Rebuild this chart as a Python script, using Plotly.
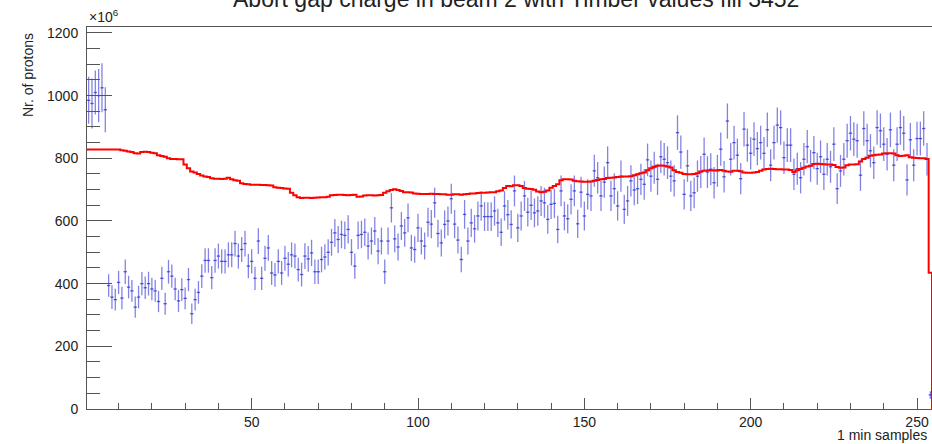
import plotly.graph_objects as go

# ---- data ----
bins = list(range(1, 255))

blue_vals = [
    985, 975, 1010, 1000, 1025, 955,
    394, 357, 349, 404, 354, 438, 389, 377, 325, 357, 400, 387, 400, 383,
    377, 343, 417, 336, 438, 424, 383, 345, 381, 353, 413, 304, 349, 372,
    424, 474, 474, 419, 474, 488, 471, 471, 492, 492, 528, 488, 509, 528,
    456, 471, 417, 536, 417, 481, 514, 434, 428, 471, 434, 481, 462, 492,
    488, 445, 429,
    488, 479, 498, 438, 438, 477, 485, 500, 532, 562, 541, 557, 554, 573,
    500, 456, 554, 557, 564, 520, 536, 568, 504, 536, 438, 536, 642, 543,
    517, 584, 562, 610, 514, 509, 578, 536, 520, 596, 590, 658, 560, 530,
    589, 600, 671, 590, 539, 477, 621, 536, 594, 575, 616, 648, 614, 614,
    614, 632, 594, 564, 648, 620,
    589, 696, 578, 616, 680, 628, 650, 626, 632, 664, 658, 605, 653, 656,
    573, 696, 616, 607, 669, 696, 591, 692, 616, 685, 680, 760, 738, 680,
    724, 786, 680, 703, 648, 743, 637, 664, 728, 699, 703, 733, 717, 795,
    743, 770, 733, 805, 797, 786, 743, 728, 882, 820, 685, 776, 680, 690,
    743, 756, 813, 756, 765, 722, 760, 829,
    741, 919, 797, 850, 810, 735, 893, 842, 816, 861, 831, 850, 816, 891,
    778, 850, 906, 898, 802, 842, 842, 749, 767, 738, 797, 837, 776, 818,
    767, 805, 749, 797, 773, 845, 703, 760, 797, 856, 880, 861, 856, 746,
    895, 856, 824, 786, 898, 888, 845, 813, 891, 778, 845, 898, 880, 731,
    859, 778, 863, 863, 895, 797,
    45,
]

blue_errs = [
    75, 80, 70, 85, 78, 72,
    36, 38, 35, 37, 36, 39, 36, 35, 34, 36, 37, 36, 38, 36, 35, 34, 37, 35, 38, 37,
    36, 35, 36, 35, 37, 33, 35, 36, 38, 39, 39, 37, 39, 40, 39, 39, 40, 40, 41, 40,
    40, 41, 39, 39, 37, 41, 37, 40, 41, 38, 38, 39, 38, 40, 39, 40, 40, 38, 38,
    41, 41, 42, 39, 39, 41, 41, 42, 43, 44, 43, 44, 44, 45, 42, 40, 44, 44, 44, 43,
    43, 45, 42, 43, 39, 43, 47, 43, 43, 45, 44, 46, 42, 42, 45, 43, 43, 46, 45, 48,
    44, 43, 45, 46, 48, 45, 43, 41, 46, 43, 45, 44, 46, 47, 46, 46, 46, 47, 45, 44,
    47, 47,
    45, 49, 45, 46, 48, 46, 47, 46, 47, 48, 48, 46, 47, 47, 44, 49, 46, 46, 48, 49,
    45, 49, 46, 48, 48, 51, 50, 48, 50, 52, 48, 49, 47, 50, 47, 48, 50, 49, 49, 50,
    49, 52, 50, 51, 50, 52, 52, 52, 50, 50, 55, 53, 48, 51, 48, 49, 50, 51, 53, 51,
    51, 50, 51, 53,
    50, 56, 52, 54, 53, 50, 55, 53, 52, 54, 53, 54, 52, 55, 51, 54, 56, 55, 52, 54,
    54, 50, 51, 50, 52, 53, 51, 53, 51, 52, 50, 52, 51, 54, 49, 51, 52, 54, 55, 54,
    54, 50, 55, 54, 53, 52, 55, 55, 54, 52, 55, 51, 54, 55, 55, 50, 54, 51, 54, 54,
    55, 52,
    12,
]

red_vals = (
    [828] * 10
    + [826, 824, 822, 820, 816, 815, 820, 821, 820, 818, 816]
    + [810, 807, 805, 800, 798, 798, 797, 797, 780, 768, 758, 755]
    + [750, 745, 742, 740, 736, 735, 735, 734, 735, 738, 733, 730, 728]
    + [720, 718, 717, 716, 716, 716, 715, 715, 714, 713]
    + [708, 706, 705, 704, 703, 690, 682, 676, 673]
    + [674, 674, 673, 674, 675, 676, 676, 677]
    + [682, 683, 684, 684, 683, 682, 683, 684]
    + [677, 678, 681, 682, 682, 681, 682, 683]
    + [690, 695, 699, 701, 699, 696, 692, 692, 691]
    + [688, 687, 686, 686, 686, 687, 686]
    + [686, 685, 685, 684, 684, 685, 685, 684, 685, 686]
    + [688, 688, 689, 690, 690, 691, 692, 692, 695, 697]
    + [705, 712, 711, 714, 714, 712, 705, 703, 702, 700]
    + [694, 692, 693, 697, 706, 712, 717, 730, 733, 733, 732]
    + [728, 727, 726, 725, 725, 726, 728, 731, 733, 734]
    + [737, 738, 739, 740, 741, 742, 742, 743]
    + [746, 749, 752, 755, 762, 768, 773, 776, 777, 776, 774, 771]
    + [762, 756, 754, 750, 749, 749, 750, 752]
    + [758, 760, 761, 762, 761, 762, 763]
    + [760, 758, 757, 760, 760, 759, 755, 754, 754, 755, 756, 760]
    + [764, 766, 767, 766, 765, 765, 764, 764, 763, 756]
    + [762, 766, 770, 774, 776, 782, 783, 782, 781, 780, 780, 779]
    + [772, 770, 771, 778, 780, 780, 781, 790, 798, 802]
    + [808, 810, 811, 812, 815, 816, 816, 815, 810, 807, 808, 810]
    + [803, 802, 801, 800, 800, 798, 435]
)

assert len(blue_vals) == len(bins), len(blue_vals)
assert len(blue_errs) == len(bins), len(blue_errs)
assert len(red_vals) == len(bins), len(red_vals)

title_text = "Abort gap charge in beam 2 with Timber values fill 3452"
x_title = "1 min samples"
y_title = "Nr. of protons"

FONT = "Liberation Sans, Arial, Helvetica, sans-serif"

# histogram outline from bin edges
red_x = [b - 0.5 for b in bins] + [bins[-1] + 0.5, bins[-1] + 0.5]
red_y = list(red_vals) + [red_vals[-1], 0]

fig = go.Figure()

fig.add_trace(go.Scatter(
    x=bins, y=blue_vals, mode="markers",
    marker=dict(size=2, color="rgba(0,0,0,0)"),
    error_y=dict(type="data", array=blue_errs, visible=True,
                 color="rgba(30,30,210,0.55)", thickness=1.3, width=0),
    error_x=dict(type="constant", value=0.5, visible=True,
                 color="rgba(30,30,210,0.7)", thickness=1.3, width=0),
    showlegend=False, hoverinfo="x+y",
))

fig.add_trace(go.Scatter(
    x=red_x, y=red_y, mode="lines",
    line=dict(color="#ff0000", width=2, shape="hv"),
    showlegend=False,
))

fig.update_layout(
    width=932, height=444,
    margin=dict(l=87, r=0, t=27, b=35),
    paper_bgcolor="white", plot_bgcolor="white",
    font=dict(family=FONT, size=14, color="#222"),
    xaxis=dict(
        range=[0.5, 254.5], showgrid=False, zeroline=False,
        showline=True, linecolor="#555", linewidth=1, mirror=True,
        tickmode="linear", tick0=0, dtick=50,
        ticks="inside", ticklen=11, tickcolor="#555", tickwidth=1,
        minor=dict(dtick=10, tick0=0, ticks="inside", ticklen=6,
                   tickcolor="#555", tickwidth=1, showgrid=False),
        tickfont=dict(size=14, family=FONT, color="#222"),
    ),
    yaxis=dict(
        range=[0, 1219], showgrid=False, zeroline=False,
        showline=True, linecolor="#555", linewidth=1,
        tickmode="linear", tick0=0, dtick=200,
        ticks="inside", ticklen=25, tickcolor="#555", tickwidth=1,
        minor=dict(dtick=50, tick0=0, ticks="inside", ticklen=13,
                   tickcolor="#555", tickwidth=1, showgrid=False),
        tickfont=dict(size=14, family=FONT, color="#222"),
        ticklabelstandoff=5,
    ),
    annotations=[
        dict(text=title_text, xref="paper", yref="paper",
             x=0.508, y=1.0 + 28 / 382, xanchor="center", yanchor="middle",
             showarrow=False, font=dict(size=23, family=FONT, color="#222")),
        dict(text=x_title, xref="paper", yref="paper",
             x=0.997, y=-26 / 382, xanchor="right", yanchor="middle",
             showarrow=False, font=dict(size=14, family=FONT, color="#222")),
        dict(text=y_title, xref="paper", yref="paper", textangle=-90,
             x=-59 / 845, y=(409 - 75) / 382, xanchor="center", yanchor="middle",
             showarrow=False, font=dict(size=14, family=FONT, color="#222")),
        dict(text="×10<sup>6</sup>", xref="paper", yref="paper",
             x=0.0, y=1.0, xanchor="left", yanchor="bottom",
             showarrow=False, font=dict(size=14, family=FONT, color="#222")),
    ],
)

fig.write_html("out.html")
